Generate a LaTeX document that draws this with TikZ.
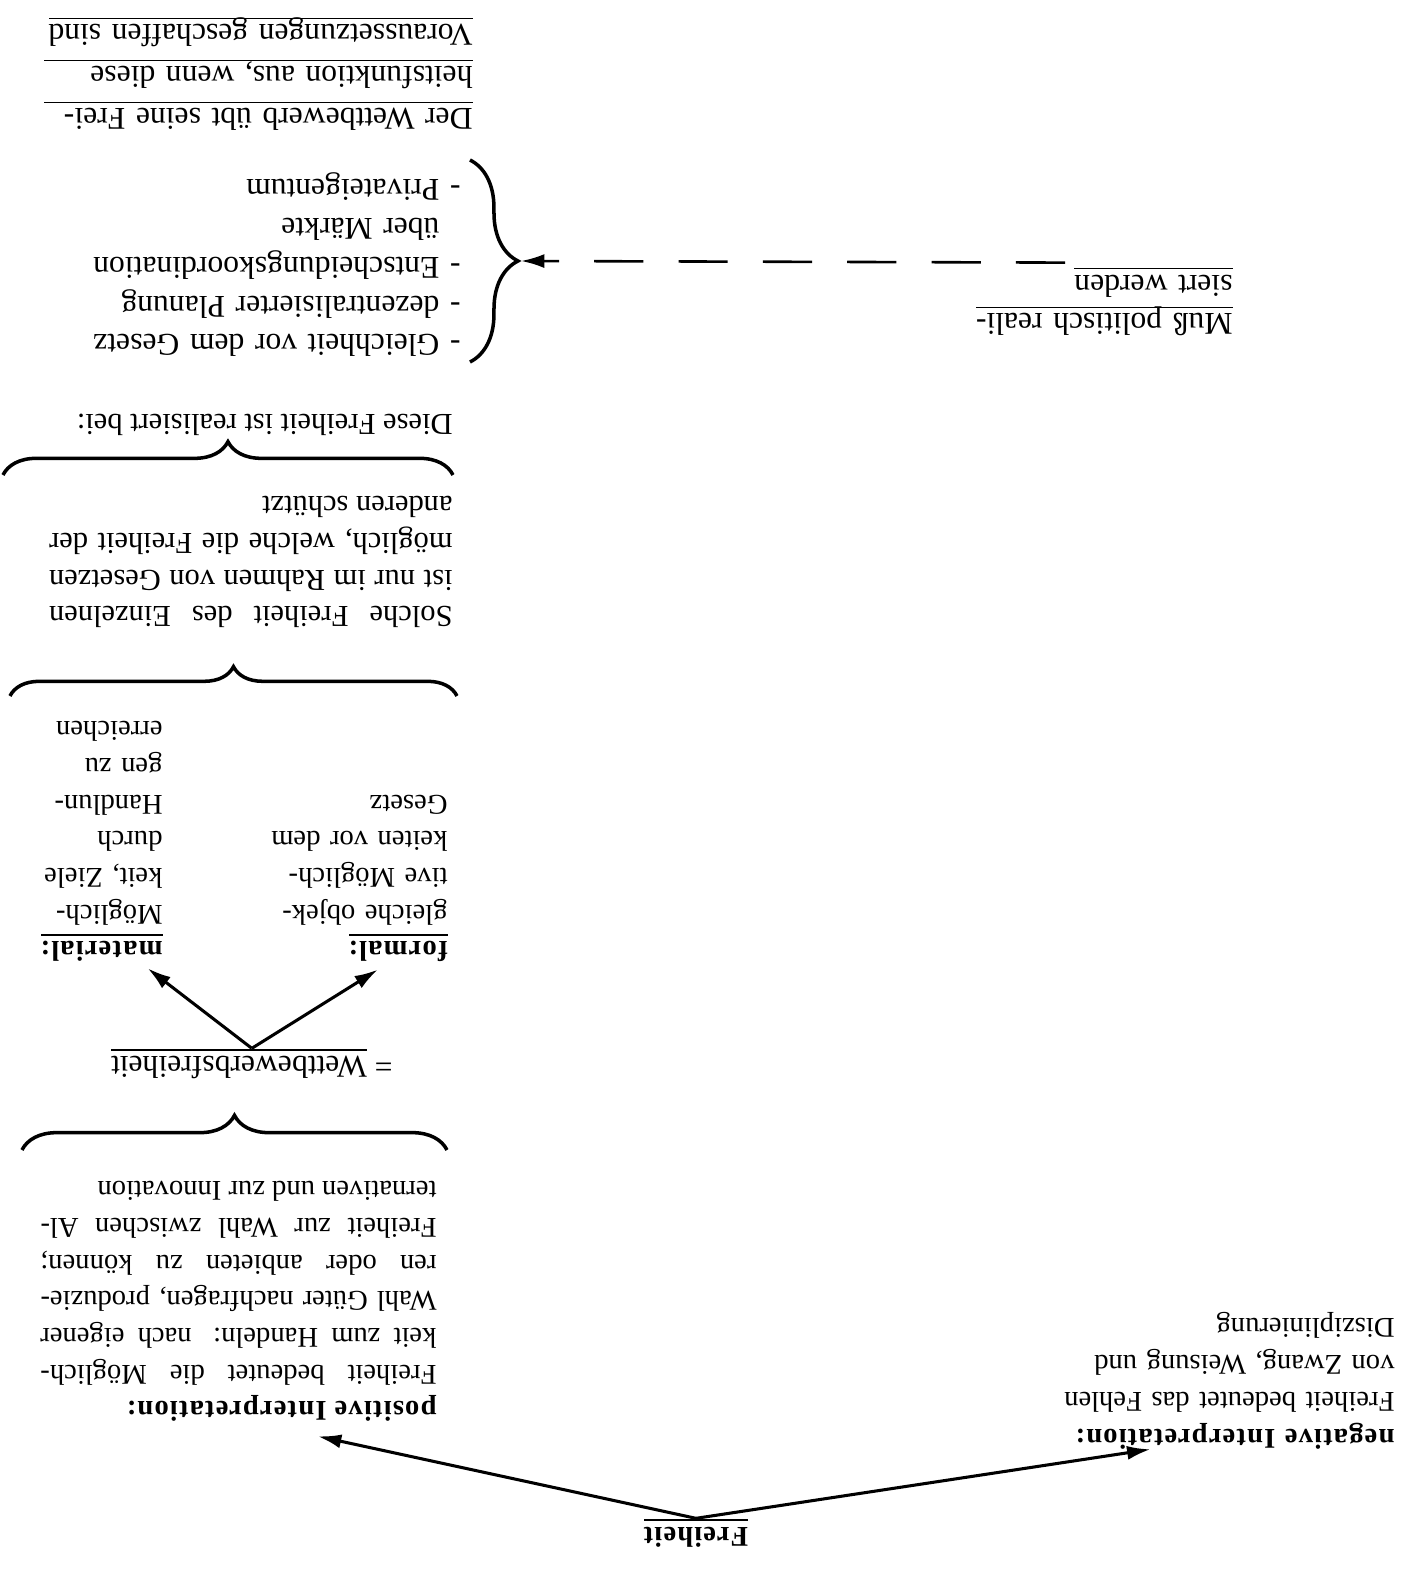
\documentclass[tikz,border=0pt]{standalone}
\usepackage{fontspec}
\setmainfont{Liberation Serif}
\newfontfamily\headfont[LetterSpace=4]{Liberation Serif}
\usetikzlibrary{arrows.meta}
\usetikzlibrary{calc}
\usetikzlibrary{decorations.pathreplacing}

\newcommand{\uthick}[1]{\leavevmode{\setbox0\hbox{#1}\rlap{\rule[-3.5pt]{\wd0}{1.1pt}}\box0}}
\newcommand{\uthin}[1]{\leavevmode{\setbox0\hbox{#1}\rlap{\rule[-3pt]{\wd0}{0.4pt}}\box0}}
\hyphenpenalty=10000

\begin{document}
\begin{tikzpicture}[x=0.015cm, y=-0.015cm, rotate=180, transform shape, >={Latex[length=10pt, width=6pt]}]
    \tikzset{txt/.style = {inner sep=0pt, anchor=base west, font=\fontsize{12.2}{15.65}\selectfont}}
    \tikzset{bigtxt/.style = {txt, font=\fontsize{13.5}{16.6}\selectfont}}
    \tikzset{pfeil/.style = {->, line width=1.3pt}}
    \tikzset{strich/.style = {->, line width=1.1pt, dash pattern=on 21pt off 15pt}}
    \tikzset{klammer/.style = {decorate, decoration={brace, amplitude=#1}, line width=1.5pt}}

    % page (the scan lies upside down)
    \useasboundingbox (0,0) rectangle (1407,1573);

    % nodes
    \node[txt, anchor=base] (frei) at (711,46) {{\headfont\bfseries\uthick{Freiheit}}};
    \node[txt, text width=5.3cm, align=left] (neg) at (12,144) {{\headfont\bfseries negative Interpretation:}\\
        Freiheit bedeutet das Fehlen\\ von Zwang, Weisung und\\ Disziplinierung};
    \node[txt, text width=5.94cm, align=justify] (pos) at (970,171) {{\headfont\bfseries positive Interpretation:}\\
        Freiheit bedeutet die Möglich-\linebreak keit zum Handeln: nach eigener\linebreak
        Wahl Güter nachfragen, produzie-\linebreak ren oder anbieten zu können;\linebreak
        Freiheit zur Wahl zwischen Al-\linebreak ternativen und zur Innovation};
    \node[bigtxt] (wett) at (1014,516) {= \uthick{Wettbewerbsfreiheit}};
    \node[txt, text width=2.68cm, align=left] (formal) at (959,631) {{\headfont\bfseries\uthick{formal:}}\\
        gleiche objek-\\ tive Möglich-\\ keiten vor dem\\ Gesetz};
    \node[txt, text width=1.9cm, align=left] (mat) at (1244,631) {{\headfont\bfseries\uthick{material:}}\\
        Möglich-\\ keit, Ziele\\ durch\\ Handlun-\\ gen zu\\ erreichen};
    \node[txt, font=\fontsize{13}{15.65}\selectfont, text width=6.05cm, align=justify] (solche) at (954,966)
        {Solche Freiheit des Einzelnen\linebreak ist nur im Rahmen von Gesetzen\linebreak
        möglich, welche die Freiheit der\linebreak anderen schützt};
    \node[txt, font=\fontsize{13}{15.65}\selectfont] (diese) at (954,1158) {Diese Freiheit ist realisiert bei:};
    \node[bigtxt, text width=5.6cm, align=left] (liste) at (946,1238) {- Gleichheit vor dem Gesetz\\ - dezentralisierter Planung\\
        - Entscheidungskoordination\\ \phantom{- }über Märkte\\ - Privateigentum};
    \node[bigtxt, text width=3.8cm, align=left] (muss) at (174,1259)
        {\uthin{Muß politisch reali-}\\ \uthin{siert werden}};
    \node[bigtxt, font=\fontsize{13.5}{18}\selectfont, text width=6.5cm, align=left] (dw) at (934,1464)
        {\uthin{\makebox[6.42cm][s]{Der Wettbewerb übt seine Frei-}}\\
        \uthin{\makebox[6.42cm][s]{heitsfunktion aus, wenn diese}}\\
        \uthin{Voraussetzungen geschaffen sind}};

    % braces
    \draw[klammer=0.52cm] (1385,423) -- (960,423);
    \draw[klammer=0.44cm] (1397,877) -- (950,877);
    \draw[klammer=0.5cm] (1404,1098) -- (954,1098);
    \draw[klammer=0.72cm] (937,1413) -- (937,1211);
    \coordinate (ktip) at (886,1312);

    % arrows
    \draw[pfeil] (frei.south) -- ($(neg.north west)!0.69!(neg.north east)$);
    \draw[pfeil] (frei.south) -- ($(pos.north west)!0.3!(pos.north east) + (0,-14)$);
    \draw[pfeil] (wett.south) -- ($(formal.north west)!0.39!(formal.north east) + (0,-7)$);
    \draw[pfeil] (wett.south) -- ($(mat.north west)!0.12!(mat.north east) + (0,-6)$);
    \draw[strich] ($(muss.south west)!0.66!(muss.south east) + (0,5)$) -- (ktip);
\end{tikzpicture}
\end{document}
